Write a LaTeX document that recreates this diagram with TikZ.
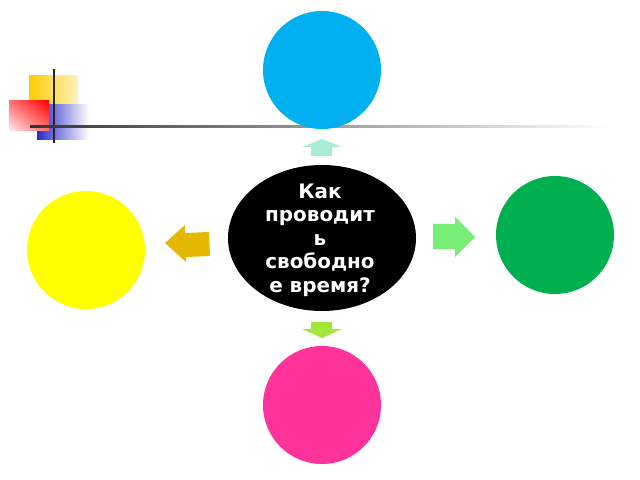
\documentclass[tikz,border=0pt]{standalone}
\usepackage{fontspec}
\setmainfont{DejaVu Sans}
\usetikzlibrary{shapes.geometric,shadings}
\definecolor{cblue}{HTML}{00B0F0}
\definecolor{cgreen}{HTML}{00B050}
\definecolor{cyellow}{HTML}{FFFF00}
\definecolor{cpink}{HTML}{FF3399}
\definecolor{amint}{HTML}{A8ECD2}
\definecolor{alime}{HTML}{A2E83C}
\definecolor{agold}{HTML}{E4B800}
\definecolor{agreen}{HTML}{78EE78}
\definecolor{dyellow}{HTML}{FFCC00}
\definecolor{dblue}{HTML}{2A2ACC}
\begin{document}
\begin{tikzpicture}[x=1bp,y=-1bp,
  disc/.style={circle, draw=none, minimum size=118bp, inner sep=0pt}]
\useasboundingbox[fill=white] (0,0) rectangle (640,480);
% decoration
\shade[left color=dyellow, right color=dyellow!25] (29,76) rectangle (78,120);
\shade[left color=dblue, middle color=dblue!85, right color=white] (37,105) rectangle (89,140);
\shade[upper right=red, lower left=red!8, upper left=red!55, lower right=red!55] (9,101) rectangle (49,131);
\draw[line width=2.8bp, black!85] (54,69) -- (54,143);
\shade[left color=black!80, right color=white] (30,125.2) rectangle (610,127.2);
% circles
\node[disc, fill=cblue] (top) at (322,70) {};
\node[disc, fill=cyellow] (left) at (86,250) {};
\node[disc, fill=cgreen] (right) at (555,235) {};
\node[disc, fill=cpink] (bottom) at (322,405) {};
% center
\node[ellipse, fill=black, minimum width=188bp, minimum height=146bp, inner sep=0pt] (center) at (322,238) {};
\node[text=white, font=\bfseries\fontsize{20}{23.5}\selectfont, align=center, inner sep=0pt] (label) at (320,240) {Как\\проводит\\ь\\свободно\\е время?};
% block arrows
\fill[amint] (302,147) -- (322,139) -- (342,147) -- (332,147) -- (332,156) -- (311,156) -- (311,147) -- cycle;
\fill[alime] (302,329) -- (322,338) -- (342,329) -- (332,329) -- (332,322) -- (311,322) -- (311,329) -- cycle;
\fill[agold] (165,243) -- (185,225) -- (185,233) -- (209,232) -- (210,256) -- (186,257) -- (186,262) -- cycle;
\fill[agreen] (433,224) -- (455,224) -- (455,217) -- (475,237) -- (455,257) -- (455,249) -- (433,249) -- cycle;
\end{tikzpicture}
\end{document}
